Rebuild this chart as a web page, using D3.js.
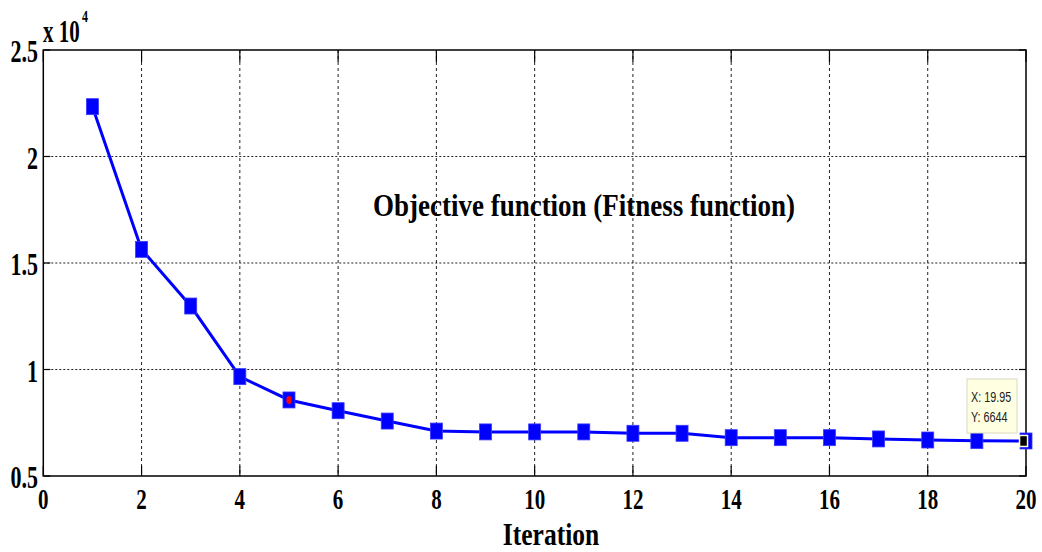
<!DOCTYPE html>
<html>
<head>
<meta charset="utf-8">
<script src="https://cdn.jsdelivr.net/npm/d3@7"></script>
<style>
  html, body { margin: 0; padding: 0; background: #fff; }
  svg { display: block; }
  .serif { font-family: "Liberation Serif", "Times New Roman", serif; font-weight: bold; fill: #000; }
</style>
</head>
<body>
<svg id="chart" width="1042" height="552"></svg>
<script>
// Convergence of the objective (fitness) value per iteration
const iterations = [1, 2, 3, 4, 5, 6, 7, 8, 9, 10, 11, 12, 13, 14, 15, 16, 17, 18, 19, 20];
const fitness = [22340, 15640, 12980, 9664, 8570, 8066, 7580, 7110, 7070, 7070, 7070, 7005, 7005, 6800, 6800, 6800, 6740, 6690, 6660, 6644];
const xTicks = [0, 2, 4, 6, 8, 10, 12, 14, 16, 18, 20];
const yTicks = [5000, 10000, 15000, 20000, 25000];
const yTickLabels = ["0.5", "1", "1.5", "2", "2.5"];
const highlightIndex = 4;           // red point on iteration 5
const dataTip = { x: 19.95, y: 6644 };

const svg = d3.select("#chart");
const L = 43.3, R = 1026, T = 50, B = 476;

const x = d3.scaleLinear().domain([0, 20]).range([L, R]);
const y = d3.scaleLinear().domain([5000, 25000]).range([B, T]);

// stretched serif text helper
function label(txt, px, py, size, sy, anchor) {
  return svg.append("text")
    .attr("class", "serif")
    .attr("transform", `translate(${px},${py}) scale(1,${sy})`)
    .attr("font-size", size)
    .attr("text-anchor", anchor || "start")
    .text(txt);
}

// grid lines
const grid = svg.append("g");
grid.selectAll(".gx").data(xTicks.slice(1, -1)).enter().append("line")
  .attr("x1", d => x(d)).attr("x2", d => x(d))
  .attr("y1", T).attr("y2", B)
  .attr("stroke", "#222").attr("stroke-width", 1).attr("stroke-dasharray", "3,3");
grid.selectAll(".gy").data(yTicks.slice(1, -1)).enter().append("line")
  .attr("x1", L).attr("x2", R)
  .attr("y1", d => y(d)).attr("y2", d => y(d))
  .attr("stroke", "#222").attr("stroke-width", 1).attr("stroke-dasharray", "2,2");

// inward tick marks on all four sides
const ticks = svg.append("g").attr("stroke", "#000").attr("stroke-width", 1.2);
xTicks.forEach(t => {
  ticks.append("line").attr("x1", x(t)).attr("x2", x(t)).attr("y1", B).attr("y2", B - 10);
  ticks.append("line").attr("x1", x(t)).attr("x2", x(t)).attr("y1", T).attr("y2", T + 12);
});
yTicks.forEach(t => {
  ticks.append("line").attr("x1", L).attr("x2", L + 7).attr("y1", y(t)).attr("y2", y(t));
  ticks.append("line").attr("x1", R).attr("x2", R - 7).attr("y1", y(t)).attr("y2", y(t));
});

// axes box
svg.append("rect")
  .attr("x", L).attr("y", T).attr("width", R - L).attr("height", B - T)
  .attr("fill", "none").attr("stroke", "#000").attr("stroke-width", 1.5);

// tick labels
xTicks.forEach(t => label(String(t), x(t), 508.5, 21, 1.38, "middle"));
yTicks.forEach((t, i) => label(yTickLabels[i], 38, y(t) + 12, 22, 1.4, "end"));

// exponent label
label("x 10", 43, 41.5, 21, 1.5, "start");
label("4", 82, 21.5, 12, 1.4, "start");

// axis title
label("Iteration", 551, 544.5, 25.5, 1.25, "middle");

// in-plot title
label("Objective function (Fitness function)", 584, 216, 27, 1.15, "middle");

// series line
const pts = iterations.map((it, i) => [it, fitness[i]]);
svg.append("path")
  .datum(pts)
  .attr("fill", "none")
  .attr("stroke", "#0000ff")
  .attr("stroke-width", 3)
  .attr("d", d3.line().x(d => x(d[0])).y(d => y(d[1])));

// square markers
const mw = 12, mh = 16;
svg.selectAll(".mk").data(pts).enter().append("rect")
  .attr("x", d => x(d[0]) - mw / 2).attr("y", d => y(d[1]) - mh / 2)
  .attr("width", mw).attr("height", mh)
  .attr("fill", "#0000ff").attr("stroke", "#3a3aff").attr("stroke-width", 0.8);

// highlighted point
const hp = pts[highlightIndex];
svg.append("ellipse")
  .attr("cx", x(hp[0])).attr("cy", y(hp[1]))
  .attr("rx", 2.6).attr("ry", 4)
  .attr("fill", "#ff0000");

// data tip
const tx = x(dataTip.x), ty = y(dataTip.y);
svg.append("rect")
  .attr("x", tx - 4).attr("y", ty - 5.5).attr("width", 8).attr("height", 11)
  .attr("fill", "#000").attr("stroke", "#ffffd0").attr("stroke-width", 1.5);
svg.append("rect")
  .attr("x", 967).attr("y", 379).attr("width", 50).attr("height", 54)
  .attr("fill", "#ffffe1").attr("stroke", "#d8d8c0").attr("stroke-width", 1);
const tipFont = "Liberation Sans, Arial, sans-serif";
svg.append("text")
  .attr("transform", "translate(971,402) scale(1,1.3)")
  .attr("font-family", tipFont).attr("font-size", 10.8).attr("fill", "#222")
  .text("X: " + dataTip.x);
svg.append("text")
  .attr("transform", "translate(971,422) scale(1,1.3)")
  .attr("font-family", tipFont).attr("font-size", 10.8).attr("fill", "#222")
  .text("Y: " + dataTip.y);
</script>
</body>
</html>
